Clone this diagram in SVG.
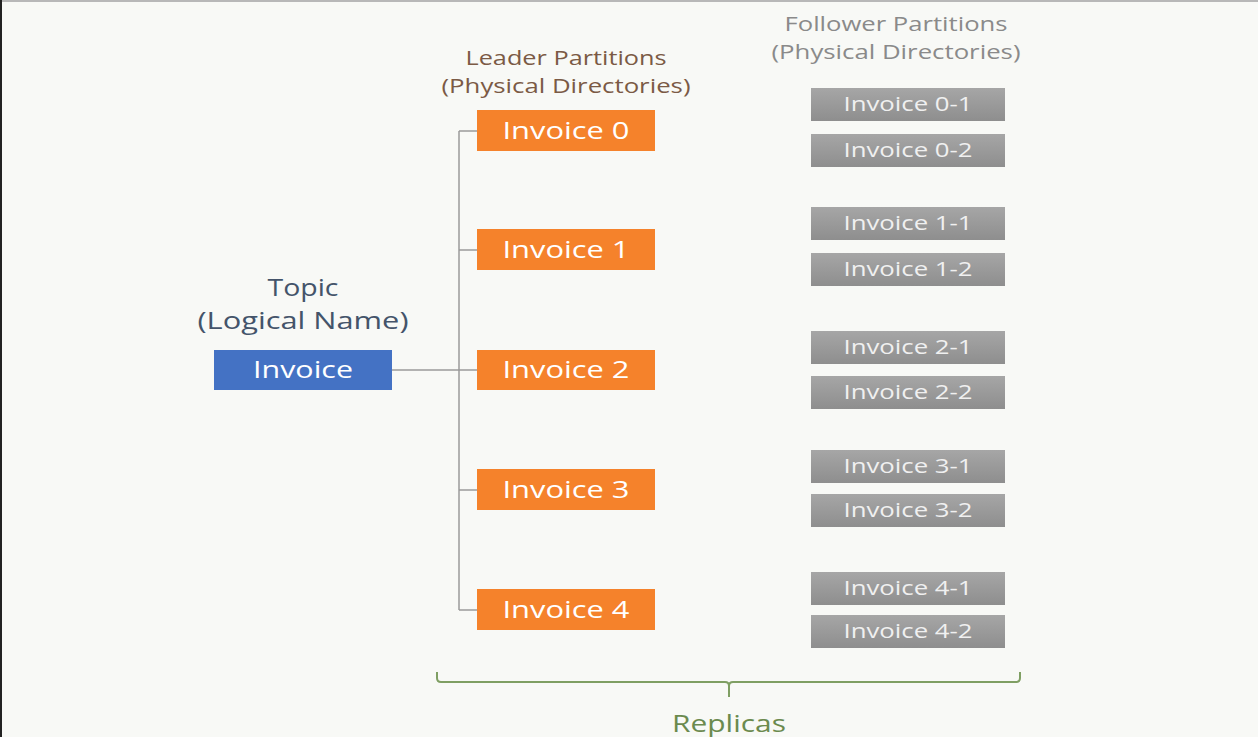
<svg xmlns="http://www.w3.org/2000/svg" width="1258" height="737" viewBox="0 0 1258 737">
<defs>
<linearGradient id="gg" x1="0" y1="0" x2="0" y2="1"><stop offset="0" stop-color="#a6a6a6"/><stop offset="1" stop-color="#8e8e8e"/></linearGradient>
</defs>
<style>
text{font-family:"Open Sans","Liberation Sans",sans-serif;text-anchor:middle}
.o rect{fill:#f5822b}
.o text{fill:#fff;font-size:24px}
.g rect{fill:url(#gg)}
.g text{fill:#f0f0f0;font-size:20px}
.c{stroke:#9a9a9a;stroke-width:1.5;fill:none}
</style>
<rect width="1258" height="737" fill="#f8f9f6"/>
<rect x="0" y="0" width="1258" height="2" fill="#b8b8b8"/>
<rect x="0" y="0" width="2" height="737" fill="#222"/>
<g id="headers">
<text x="303" y="296" font-size="24" fill="#44546a" textLength="71" lengthAdjust="spacingAndGlyphs">Topic</text>
<text x="303" y="329" font-size="24" fill="#44546a" textLength="211" lengthAdjust="spacingAndGlyphs">(Logical Name)</text>
<text x="566" y="65" font-size="20" fill="#7b5a45" textLength="201" lengthAdjust="spacingAndGlyphs">Leader Partitions</text>
<text x="566" y="93" font-size="20" fill="#7b5a45" textLength="249" lengthAdjust="spacingAndGlyphs">(Physical Directories)</text>
<text x="896" y="31" font-size="20" fill="#8a8a8a" textLength="223" lengthAdjust="spacingAndGlyphs">Follower Partitions</text>
<text x="896" y="59" font-size="20" fill="#8a8a8a" textLength="249" lengthAdjust="spacingAndGlyphs">(Physical Directories)</text>
</g>
<g id="connectors">
<path class="c" d="M392 370H477M459 131V610M459 131H477M459 250H477M459 490H477M459 610H477"/>
</g>
<g id="topic"><rect x="214" y="350" width="178" height="40" fill="#4472c4"/><text x="303" y="378" font-size="24" fill="#fff" textLength="100" lengthAdjust="spacingAndGlyphs">Invoice</text></g>
<g id="leader0" class="o"><rect x="477" y="110" width="178" height="41"/><text x="566" y="139" textLength="127" lengthAdjust="spacingAndGlyphs">Invoice 0</text></g>
<g id="leader1" class="o"><rect x="477" y="229" width="178" height="41"/><text x="566" y="258" textLength="127" lengthAdjust="spacingAndGlyphs">Invoice 1</text></g>
<g id="leader2" class="o"><rect x="477" y="350" width="178" height="40"/><text x="566" y="378" textLength="127" lengthAdjust="spacingAndGlyphs">Invoice 2</text></g>
<g id="leader3" class="o"><rect x="477" y="469" width="178" height="41"/><text x="566" y="498" textLength="127" lengthAdjust="spacingAndGlyphs">Invoice 3</text></g>
<g id="leader4" class="o"><rect x="477" y="589" width="178" height="41"/><text x="566" y="618" textLength="127" lengthAdjust="spacingAndGlyphs">Invoice 4</text></g>
<g id="f01" class="g"><rect x="811" y="88" width="194" height="33"/><text x="908" y="111" textLength="129" lengthAdjust="spacingAndGlyphs">Invoice 0-1</text></g>
<g id="f02" class="g"><rect x="811" y="134" width="194" height="33"/><text x="908" y="157" textLength="129" lengthAdjust="spacingAndGlyphs">Invoice 0-2</text></g>
<g id="f11" class="g"><rect x="811" y="207" width="194" height="33"/><text x="908" y="230" textLength="129" lengthAdjust="spacingAndGlyphs">Invoice 1-1</text></g>
<g id="f12" class="g"><rect x="811" y="253" width="194" height="33"/><text x="908" y="276" textLength="129" lengthAdjust="spacingAndGlyphs">Invoice 1-2</text></g>
<g id="f21" class="g"><rect x="811" y="331" width="194" height="33"/><text x="908" y="354" textLength="129" lengthAdjust="spacingAndGlyphs">Invoice 2-1</text></g>
<g id="f22" class="g"><rect x="811" y="376" width="194" height="33"/><text x="908" y="399" textLength="129" lengthAdjust="spacingAndGlyphs">Invoice 2-2</text></g>
<g id="f31" class="g"><rect x="811" y="450" width="194" height="33"/><text x="908" y="473" textLength="129" lengthAdjust="spacingAndGlyphs">Invoice 3-1</text></g>
<g id="f32" class="g"><rect x="811" y="494" width="194" height="33"/><text x="908" y="517" textLength="129" lengthAdjust="spacingAndGlyphs">Invoice 3-2</text></g>
<g id="f41" class="g"><rect x="811" y="572" width="194" height="33"/><text x="908" y="595" textLength="129" lengthAdjust="spacingAndGlyphs">Invoice 4-1</text></g>
<g id="f42" class="g"><rect x="811" y="615" width="194" height="33"/><text x="908" y="638" textLength="129" lengthAdjust="spacingAndGlyphs">Invoice 4-2</text></g>
<g id="replicas">
<path d="M437 672V678Q437 682 441 682H725Q729 682 729 686V697M729 686Q729 682 733 682H1016Q1020 682 1020 678V672" fill="none" stroke="#7f9f63" stroke-width="2"/>
<text x="729" y="732" font-size="24" fill="#6b8a4e" textLength="114" lengthAdjust="spacingAndGlyphs">Replicas</text>
</g>
</svg>
